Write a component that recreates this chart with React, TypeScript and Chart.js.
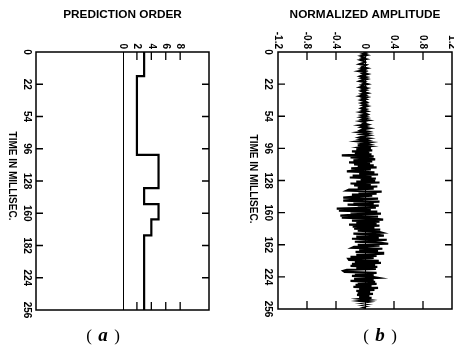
import React, { useEffect, useRef } from "react";
import { Chart, registerables } from "chart.js";
Chart.register(...registerables);

// ---- data ----
const timeTicks = [0, 32, 64, 96, 128, 160, 192, 224, 256];
const timeLabelsA = ["0", "22", "54", "96", "128", "160", "182", "224", "256"];
const timeLabelsB = ["0", "22", "54", "96", "128", "160", "162", "224", "256"];
const orderTicks = [0, 2, 4, 6, 8];
const orderTickLabels = ["0", "2", "4", "6", "8"];
const ampTicks = [-1.2, -0.8, -0.4, 0, 0.4, 0.8, 1.2];
const ampTickLabels = ["-1.2", "-0.8", "-0.4", "0", "0.4", "0.8", "1.2"];

// prediction order: segment start times (ms) and order values
const orderTimes = [0, 24, 102, 135, 151, 166, 182, 256];
const orderValues = [3, 2, 5, 3, 5, 4, 3, 3];

// normalized amplitude, one sample per ms
const amplitude = [
  -0.02, 0.01, -0.03, 0.02, -0.05, -0.01, -0.04, 0.01, -0.06, -0.02, 0.0, -0.03, -0.07, 0.01, -0.02, -0.04,
  0.02, -0.05, -0.01, -0.08, 0.0, -0.03, 0.03, -0.02, -0.06, 0.01, -0.04, 0.02, -0.03, -0.07, 0.0, -0.02,
  0.03, -0.04, -0.01, -0.06, 0.02, -0.03, 0.01, -0.05, -0.02, 0.03, -0.04, 0.0, -0.06, 0.02, -0.03, 0.01,
  -0.05, -0.01, 0.02, -0.04, 0.01, -0.03, 0.03, -0.02, -0.05, 0.01, -0.03, 0.02, -0.06, 0.0, 0.03, -0.04,
  0.01, -0.05, 0.02, -0.03, 0.04, -0.06, 0.0, -0.02, 0.03, -0.07, 0.01, -0.04, 0.05, -0.03, -0.06, 0.02,
  -0.08, 0.03, -0.04, 0.05, -0.02, -0.07, 0.04, -0.05, 0.02, -0.09, 0.06, -0.03, 0.04, -0.1, 0.05, -0.06,
  0.08, -0.12, 0.1, -0.18, 0.06, -0.14, 0.09, -0.32, 0.12, -0.2, 0.05, 0.14, -0.16, 0.1, -0.22, 0.07,
  -0.15, 0.12, -0.1, 0.16, -0.19, 0.08, -0.12, -0.25, 0.13, -0.08, 0.18, -0.17, 0.09, -0.21, 0.15, -0.06,
  0.14, -0.12, 0.2, -0.2, 0.08, -0.15, 0.17, -0.1, 0.12, -0.22, -0.25, 0.23, -0.09, 0.16, -0.18, 0.1,
  -0.14, -0.3, 0.18, -0.12, -0.3, 0.2, -0.16, 0.12, -0.24, 0.19, -0.1, 0.15, -0.39, 0.08, -0.36, 0.17,
  -0.2, 0.22, -0.14, -0.34, 0.18, -0.32, 0.12, 0.25, -0.18, 0.2, -0.12, 0.16, -0.22, 0.2, -0.17, 0.13,
  -0.15, 0.21, -0.1, 0.18, 0.23, -0.16, 0.14, 0.26, -0.12, 0.19, -0.18, 0.3, 0.15, -0.14, 0.22, 0.32,
  -0.1, 0.2, -0.15, -0.18, 0.24, -0.08, 0.18, -0.13, 0.25, 0.25, -0.12, 0.16, -0.2, 0.12, -0.23, -0.22,
  0.19, -0.14, 0.22, -0.18, 0.14, -0.2, 0.17, -0.12, 0.15, -0.25, -0.3, -0.28, 0.16, -0.14, 0.12, -0.18,
  0.1, 0.18, -0.15, 0.12, -0.2, 0.14, -0.1, 0.16, -0.13, 0.09, -0.16, 0.18, -0.08, 0.13, -0.12, 0.07,
  -0.1, 0.11, -0.11, 0.06, -0.08, 0.09, -0.06, 0.05, -0.07, 0.04, -0.05, 0.03, -0.04, 0.02, -0.03, 0.01,
];

const LABEL_FONT = "bold 10px 'Liberation Sans', Arial, sans-serif";

function rotText(ctx: CanvasRenderingContext2D, text: string, x: number, y: number, align: CanvasTextAlign) {
  ctx.save();
  ctx.translate(x, y);
  ctx.rotate(Math.PI / 2);
  ctx.textAlign = align;
  ctx.textBaseline = "middle";
  ctx.fillText(text, 0, 0);
  ctx.restore();
}

type DecorCfg = {
  title: string;
  xTicks: number[];
  xTickLabels: string[];
  timeLabels: string[];
  yLabelX: number;
  axisTitleX: number;
  axisTitleY: number;
  letter: string;
  letterX: number;
};

function makeDecor(cfg: DecorCfg) {
  return {
    id: "decor",
    beforeDatasetsDraw(chart: any) {
      const ctx: CanvasRenderingContext2D = chart.ctx;
      const { left, right, top, bottom } = chart.chartArea;
      const xs = chart.scales.x;
      const ys = chart.scales.y;
      ctx.save();
      ctx.strokeStyle = "#000";
      // zero line
      ctx.lineWidth = 1;
      const x0 = Math.round(xs.getPixelForValue(0)) + 0.5;
      ctx.beginPath();
      ctx.moveTo(x0, top);
      ctx.lineTo(x0, bottom);
      ctx.stroke();
      // frame
      ctx.lineWidth = 1.5;
      ctx.strokeRect(left, top, right - left, bottom - top);
      // x ticks (top and bottom, inward)
      ctx.lineWidth = 1.3;
      cfg.xTicks.forEach((v) => {
        const px = xs.getPixelForValue(v);
        if (v === 0 || px <= left + 1 || px >= right - 1) return;
        ctx.beginPath();
        ctx.moveTo(px, top);
        ctx.lineTo(px, top + 8);
        ctx.moveTo(px, bottom);
        ctx.lineTo(px, bottom - 8);
        ctx.stroke();
      });
      // y ticks (left and right, inward)
      timeTicks.forEach((t) => {
        if (t === timeTicks[0] || t === timeTicks[timeTicks.length - 1]) return;
        const py = ys.getPixelForValue(t);
        ctx.beginPath();
        ctx.moveTo(left, py);
        ctx.lineTo(left + 7, py);
        ctx.moveTo(right, py);
        ctx.lineTo(right - 7, py);
        ctx.stroke();
      });
      ctx.restore();
    },
    afterDraw(chart: any) {
      const ctx: CanvasRenderingContext2D = chart.ctx;
      const { top } = chart.chartArea;
      const xs = chart.scales.x;
      const ys = chart.scales.y;
      ctx.save();
      ctx.fillStyle = "#000";
      // title (slightly widened)
      ctx.save();
      ctx.font = "bold 10px 'Liberation Sans', Arial, sans-serif";
      ctx.translate(xs.getPixelForValue(0), 15);
      ctx.scale(1.18, 1);
      ctx.textAlign = "center";
      ctx.textBaseline = "middle";
      ctx.fillText(cfg.title, 0, 0);
      ctx.restore();
      ctx.font = LABEL_FONT;
      // top tick labels
      cfg.xTicks.forEach((v, i) => {
        rotText(ctx, cfg.xTickLabels[i], xs.getPixelForValue(v), top - 3, "right");
      });
      // time tick labels
      timeTicks.forEach((t, i) => {
        rotText(ctx, cfg.timeLabels[i], cfg.yLabelX, ys.getPixelForValue(t), "center");
      });
      // axis title
      rotText(ctx, "TIME IN MILLISEC.", cfg.axisTitleX, cfg.axisTitleY, "center");
      // panel letter
      ctx.textAlign = "center";
      ctx.textBaseline = "alphabetic";
      ctx.font = "17px 'Liberation Serif', serif";
      ctx.fillText("(", cfg.letterX - 14, 341);
      ctx.fillText(")", cfg.letterX + 14, 341);
      ctx.font = "italic bold 19px 'Liberation Serif', serif";
      ctx.fillText(cfg.letter, cfg.letterX, 341);
      ctx.restore();
    },
  };
}

const W = 227;
const H = 347;

export default function App() {
  const refA = useRef<HTMLCanvasElement>(null);
  const refB = useRef<HTMLCanvasElement>(null);

  useEffect(() => {
    const common = (pad: any, xmin: number, xmax: number) => ({
      responsive: false,
      animation: false as const,
      devicePixelRatio: 1,
      events: [],
      layout: { padding: pad },
      scales: {
        x: { type: "linear" as const, min: xmin, max: xmax, display: false },
        y: { type: "linear" as const, min: 0, max: 256, reverse: true, display: false },
      },
      plugins: { legend: { display: false }, tooltip: { enabled: false } },
    });

    const chartA = new Chart(refA.current!, {
      type: "scatter",
      data: {
        datasets: [
          {
            data: orderTimes.map((t, i) => ({ x: orderValues[i], y: t })),
            showLine: true,
            stepped: "after",
            borderColor: "#000",
            borderWidth: 2.2,
            pointRadius: 0,
            fill: false,
          } as any,
        ],
      },
      options: common({ left: 36, right: W - 209, top: 52, bottom: H - 310 }, -12, 12) as any,
      plugins: [
        makeDecor({
          title: "PREDICTION ORDER",
          xTicks: orderTicks,
          xTickLabels: orderTickLabels,
          timeLabels: timeLabelsA,
          yLabelX: 27,
          axisTitleX: 12,
          axisTitleY: 176,
          letter: "a",
          letterX: 103,
        }) as any,
      ],
    });

    const chartB = new Chart(refB.current!, {
      type: "scatter",
      data: {
        datasets: [
          {
            data: amplitude.map((a, i) => ({ x: a, y: i })),
            showLine: true,
            borderColor: "#000",
            borderWidth: 2.2,
            pointRadius: 0,
            fill: false,
          } as any,
        ],
      },
      options: common({ left: 278 - W, right: W - (452 - W), top: 52, bottom: H - 309 }, -1.2, 1.2) as any,
      plugins: [
        makeDecor({
          title: "NORMALIZED AMPLITUDE",
          xTicks: ampTicks,
          xTickLabels: ampTickLabels,
          timeLabels: timeLabelsB,
          yLabelX: 268 - W,
          axisTitleX: 253 - W,
          axisTitleY: 179,
          letter: "b",
          letterX: 380 - W,
        }) as any,
      ],
    });

    return () => {
      chartA.destroy();
      chartB.destroy();
    };
  }, []);

  return (
    <div style={{ position: "fixed", left: 0, top: 0, width: 454, height: 347, background: "#fff" }}>
      <canvas ref={refA} width={W} height={H} style={{ position: "absolute", left: 0, top: 0, width: W, height: H }} />
      <canvas ref={refB} width={W} height={H} style={{ position: "absolute", left: W, top: 0, width: W, height: H }} />
    </div>
  );
}
